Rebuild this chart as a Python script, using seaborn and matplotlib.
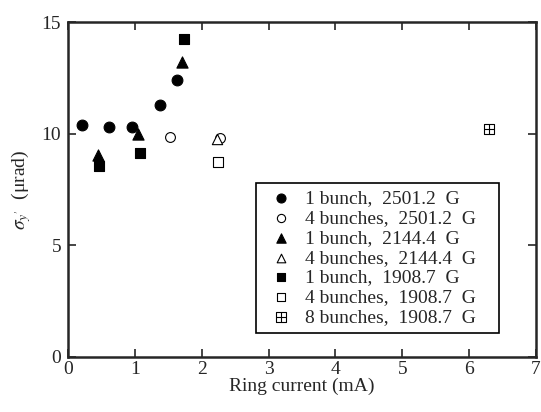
import matplotlib
matplotlib.use("Agg")
import matplotlib.pyplot as plt
import seaborn as sns
import pandas as pd

# data
c1_x = [0.21, 0.62, 0.96, 1.38, 1.63]
c1_y = [10.4, 10.3, 10.3, 11.3, 12.4]
c4_x = [1.52, 2.27]
c4_y = [9.85, 9.8]
t1_x = [0.45, 1.04, 1.70]
t1_y = [9.05, 10.0, 13.2]
t4_x = [2.23]
t4_y = [9.75]
s1_x = [0.47, 1.07, 1.73]
s1_y = [8.55, 9.15, 14.25]
s4_x = [2.24]
s4_y = [8.72]
s8_x = [6.29]
s8_y = [10.2]

labels = ["1 bunch,  2501.2  G", "4 bunches,  2501.2  G",
          "1 bunch,  2144.4  G", "4 bunches,  2144.4  G",
          "1 bunch,  1908.7  G", "4 bunches,  1908.7  G",
          "8 bunches,  1908.7  G"]
x_ticks = [0, 1, 2, 3, 4, 5, 6, 7]
y_ticks = [0, 5, 10, 15]

sns.set_style("ticks")
plt.rcParams['font.family'] = ['Liberation Serif', 'DejaVu Serif']
plt.rcParams['mathtext.fontset'] = 'stix'

fig = plt.figure(figsize=(5.41, 4.12), dpi=100)
ax = fig.add_axes([0.1257, 0.1335, 0.865, 0.813])

series = [
    (c1_x, c1_y, 'o', 'black', 60),
    (c4_x, c4_y, 'o', 'white', 50),
    (t1_x, t1_y, '^', 'black', 65),
    (t4_x, t4_y, '^', 'white', 55),
    (s1_x, s1_y, 's', 'black', 55),
    (s4_x, s4_y, 's', 'white', 50),
]
handles = []
for (xs, ys, m, fc, s), lab in zip(series, labels):
    df = pd.DataFrame({"x": xs, "y": ys})
    sns.scatterplot(data=df, x="x", y="y", marker=m, s=s, color=fc,
                    edgecolor='black', linewidth=0.8, ax=ax, zorder=3)
    h = ax.scatter([], [], marker=m, s=s * 0.7, facecolor=fc,
                   edgecolor='black', linewidth=0.8)
    handles.append(h)

df8 = pd.DataFrame({"x": s8_x, "y": s8_y})
sns.scatterplot(data=df8, x="x", y="y", marker='s', s=60, color='white',
                edgecolor='black', linewidth=0.8, ax=ax, zorder=3)
sns.scatterplot(data=df8, x="x", y="y", marker='+', s=60, color='black',
                linewidth=0.8, ax=ax, zorder=4)
h8a = ax.scatter([], [], marker='s', s=42, facecolor='white', edgecolor='black', linewidth=0.8)
h8b = ax.scatter([], [], marker='+', s=42, color='black', linewidth=0.8)
handles.append((h8a, h8b))

ax.set_xlim(0, 7)
ax.set_ylim(0, 15)
ax.set_xticks(x_ticks)
ax.set_yticks(y_ticks)
ax.tick_params(direction='in', length=6, width=1.2, top=True, right=True,
               labelsize=14)
ax.tick_params(axis='x', pad=3)
ax.tick_params(axis='y', pad=5)
for sp in ax.spines.values():
    sp.set_linewidth(1.8)
    sp.set_visible(True)

ax.set_xlabel("Ring current (mA)", fontsize=14, labelpad=0)
ax.set_ylabel(r"$\sigma_{y'}$  (μrad)", fontsize=14)
ax.yaxis.set_label_coords(-0.075, 0.5)

leg = ax.legend(handles, labels, loc='upper left',
                bbox_to_anchor=(0.402, 0.072, 0.519, 0.447), mode='expand',
                fontsize=14, frameon=True, fancybox=False, edgecolor='black',
                framealpha=1, borderpad=0.35, labelspacing=0.11,
                handletextpad=0.25, handlelength=1.9, borderaxespad=0)
leg.get_frame().set_linewidth(1.2)

fig.savefig("out.png", dpi=100)
